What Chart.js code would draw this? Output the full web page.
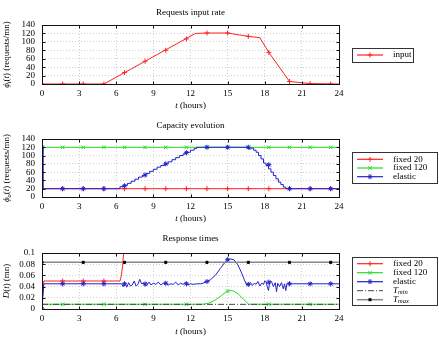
<!DOCTYPE html>
<html><head><meta charset="utf-8">
<script src="https://cdn.jsdelivr.net/npm/chart.js@4.4.0/dist/chart.umd.min.js"></script>
<style>
html,body{margin:0;padding:0;background:#fff;}
.wrap{position:absolute;left:0;width:439px;height:113px;}
</style></head><body>
<div class="wrap" style="top:0"><canvas id="c1"></canvas></div>
<div class="wrap" style="top:113px"><canvas id="c2"></canvas></div>
<div class="wrap" style="top:226px;height:112px"><canvas id="c3"></canvas></div>
<script>
// ---------- data ----------
const hourTicks = [0, 3, 6, 9, 12, 15, 18, 21, 24];
const hourLabels = ['0', '3', '6', '9', '12', '15', '18', '21', '24'];
const rateTicks = [0, 20, 40, 60, 80, 100, 120, 140];
const rateLabels = ['0', '20', '40', '60', '80', '100', '120', '140'];
const delayTicks = [0, 0.02, 0.04, 0.06, 0.08, 0.1];
const delayLabels = ['0', '0.02', '0.04', '0.06', '0.08', '0.1'];

const markT = [0, 1.67, 3.33, 5, 6.67, 8.33, 10, 11.67, 13.33, 15, 16.67, 18.33, 20, 21.67, 23.33];

// Requests input rate
const inputLineT = [0, 5, 12.4, 13.33, 15, 16.67, 17.6, 18.33, 20, 21.67, 24];
const inputLineV = [0, 0, 120, 121, 121, 113, 110, 75, 6, 1, 0];
const inputMarkV = [0, 0, 0, 0, 27, 54, 80, 107, 121, 121, 113, 75, 6, 1, 0];

// Capacity evolution
const capFixed20T = [0, 24];
const capFixed20V = [20, 20];
const capFixed20MarkV = [20, 20, 20, 20, 20, 20, 20, 20, 20, 20, 20, 20, 20, 20, 20];
const capFixed120T = [0, 24];
const capFixed120V = [120, 120];
const capFixed120MarkT = [1.67, 3.33, 5, 6.67, 8.33, 10, 11.67, 13.33, 15, 16.67, 18.33, 20, 21.67, 23.33];
const capFixed120MarkV = [120, 120, 120, 120, 120, 120, 120, 120, 120, 120, 120, 120, 120, 120];
const capElasticT = [0, 0.1, 6.3, 6.6, 6.9, 7.2, 7.5, 7.8, 8.1, 8.4, 8.7, 9.0, 9.3, 9.6, 9.9, 10.2, 10.5, 10.8, 11.1, 11.4, 11.7, 12.0, 12.3, 12.5,
  16.7, 16.9, 17.1, 17.3, 17.5, 17.7, 17.9, 18.1, 18.3, 18.5, 18.7, 18.9, 19.1, 19.3, 19.5, 19.7, 19.9, 24];
const capElasticV = [120, 20, 25, 28, 33, 38, 43, 48, 52, 57, 62, 67, 72, 76, 80, 85, 90, 95, 100, 104, 108, 113, 117, 120,
  116, 118, 113, 108, 100, 92, 82, 76, 68, 60, 52, 44, 36, 30, 24, 20, 20, 20];
const capElasticMarkV = [120, 20, 20, 20, 27, 53, 80, 107, 120, 120, 120, 78, 20, 20, 20];

// Response times
const respFixed20T = [0, 0.15, 6.3, 6.4, 6.5, 6.6, 6.8, 7.0];
const respFixed20V = [0.012, 0.05, 0.05, 0.058, 0.075, 0.1, 0.14, 0.2];
const respFixed20MarkT = [1.67, 3.33, 5];
const respFixed20MarkV = [0.05, 0.05, 0.05];
const respFixed120T = [0, 13.0, 13.5, 14.0, 14.5, 14.9, 15.2, 15.5, 15.9, 16.3, 16.7, 24];
const respFixed120V = [0.0085, 0.0085, 0.0105, 0.016, 0.024, 0.031, 0.033, 0.032, 0.026, 0.017, 0.0085, 0.0085];
const respFixed120MarkT = [1.67, 5, 8.33, 11.67, 15, 18.33, 21.67];
const respFixed120MarkV = [0.0085, 0.0085, 0.0085, 0.0085, 0.032, 0.0085, 0.0085];
const respElasticT = [0, 0.15, 6.3, 6.45, 6.55, 6.7, 6.85, 7.0, 7.15, 7.3, 7.45, 7.6, 7.75, 7.9, 8.05, 8.2, 8.35, 8.5, 8.65, 8.8,
  9.0, 9.2, 9.4, 9.6, 9.8, 10.0, 10.2, 10.4, 10.6, 10.8, 11.0, 11.2, 11.4, 11.6, 11.8, 12.0, 12.2, 12.5, 12.8, 13.0, 13.3,
  13.6, 14.0, 14.4, 14.8, 15.2, 15.5, 15.8, 16.1, 16.35, 16.55, 16.7, 16.85, 17.0, 17.15, 17.3, 17.45, 17.6, 17.75, 17.9,
  18.0, 18.1, 18.2, 18.3, 18.4, 18.55, 18.7, 18.85, 18.95, 19.05, 19.2, 19.35, 19.5, 19.6, 19.7, 19.8, 20.0, 24];
const respElasticV = [0, 0.045, 0.045, 0.045, 0.040, 0.046, 0.039, 0.047, 0.041, 0.043, 0.050, 0.041, 0.044, 0.053, 0.045, 0.046, 0.041, 0.043, 0.048, 0.043,
  0.046, 0.044, 0.048, 0.043, 0.046, 0.046, 0.043, 0.045, 0.044, 0.048, 0.043, 0.046, 0.044, 0.047, 0.043, 0.045, 0.044, 0.045, 0.045, 0.046, 0.049,
  0.052, 0.060, 0.072, 0.084, 0.0895, 0.088, 0.080, 0.066, 0.052, 0.043, 0.045, 0.047, 0.042, 0.046, 0.044, 0.049, 0.041, 0.046, 0.044,
  0.050, 0.049, 0.040, 0.033, 0.048, 0.049, 0.040, 0.047, 0.031, 0.046, 0.040, 0.047, 0.036, 0.045, 0.033, 0.046, 0.045, 0.045];
const respElasticMarkV = [0, 0.045, 0.045, 0.045, 0.045, 0.045, 0.046, 0.045, 0.049, 0.088, 0.044, 0.048, 0.045, 0.045, 0.045];
const tMinT = [0, 24];
const tMinV = [0.00833, 0.00833];
const tMaxT = [0, 24];
const tMaxV = [0.0833, 0.0833];
const tMaxMarkT = [0, 3.33, 6.67, 10, 13.33, 16.67, 20, 23.33];
const tMaxMarkV = [0.0833, 0.0833, 0.0833, 0.0833, 0.0833, 0.0833, 0.0833, 0.0833];

// ---------- styling ----------
const SERIF = '"Liberation Serif", "Times New Roman", serif';
const R = '9px ' + SERIF, I = 'italic 9px ' + SERIF, S = 'italic 6.5px ' + SERIF;
const RED = '#f22', GREEN = '#2d2', BLUE = '#22c', BLACK = '#000', GRAY = '#888', TMIN = '#444';
Chart.defaults.font.family = SERIF;
Chart.defaults.font.size = 9;
Chart.defaults.color = '#000';

function pts(ts, vs) { return ts.map((t, i) => ({ x: t, y: vs[i] })); }
function lineDS(ts, vs, color, order, extra) {
  return Object.assign({ data: pts(ts, vs), borderColor: color, borderWidth: 1, pointRadius: 0, tension: 0, fill: false, order: order }, extra || {});
}
function markDS(ts, vs, color, style, order, r) {
  return { data: pts(ts, vs), showLine: false, pointStyle: style, pointRadius: r || 2.5, borderColor: color,
    backgroundColor: color, pointBorderWidth: 1, order: order };
}

function drawRich(ctx, parts, x, y, align) {
  let w = 0;
  for (const p of parts) { ctx.font = p.f; w += ctx.measureText(p.t).width; }
  let cx = align === 'center' ? x - w / 2 : x;
  ctx.textBaseline = 'middle'; ctx.textAlign = 'left';
  for (const p of parts) { ctx.font = p.f; ctx.fillText(p.t, cx, y + (p.dy || 0)); cx += ctx.measureText(p.t).width; }
}
function drawMarker(ctx, style, x, y, r, color) {
  ctx.save(); ctx.strokeStyle = color; ctx.fillStyle = color; ctx.lineWidth = 1; ctx.setLineDash([]);
  ctx.beginPath();
  if (style === 'cross' || style === 'star') { ctx.moveTo(x - r, y); ctx.lineTo(x + r, y); ctx.moveTo(x, y - r); ctx.lineTo(x, y + r); }
  if (style === 'crossRot' || style === 'star') { const d = r * 0.707; ctx.moveTo(x - d, y - d); ctx.lineTo(x + d, y + d); ctx.moveTo(x - d, y + d); ctx.lineTo(x + d, y - d); }
  ctx.stroke();
  if (style === 'rect') ctx.fillRect(x - 1.5, y - 1.5, 3, 3);
  ctx.restore();
}

function framePlugin(cfg) {
  return {
    id: 'frame_' + cfg.id,
    afterDatasetsDraw(chart) {
      const ctx = chart.ctx, a = chart.chartArea, xs = chart.scales.x, ys = chart.scales.y;
      ctx.save();
      ctx.strokeStyle = '#111'; ctx.lineWidth = 1; ctx.setLineDash([]);
      const L = Math.round(a.left) + 0.5, T = Math.round(a.top) + 0.5, Rr = Math.round(a.right) + 0.5, B = Math.round(a.bottom) + 0.5;
      ctx.strokeRect(L, T, Rr - L, B - T);
      ctx.beginPath();
      for (const v of hourTicks) { const px = Math.round(xs.getPixelForValue(v)) + 0.5; ctx.moveTo(px, B); ctx.lineTo(px, B - 3); ctx.moveTo(px, T); ctx.lineTo(px, T + 3); }
      for (const v of cfg.yTicks) { const py = Math.round(ys.getPixelForValue(v)) + 0.5; ctx.moveTo(L, py); ctx.lineTo(L + 3, py); ctx.moveTo(Rr, py); ctx.lineTo(Rr - 3, py); }
      ctx.stroke();
      ctx.restore();
    },
    afterDraw(chart) {
      const ctx = chart.ctx, a = chart.chartArea;
      ctx.save(); ctx.fillStyle = '#000';
      // title
      drawRich(ctx, [{ t: cfg.title, f: R }], (a.left + a.right) / 2, 13, 'center');
      // x title
      drawRich(ctx, [{ t: 't', f: I }, { t: ' (hours)', f: R }], (a.left + a.right) / 2, 106, 'center');
      // y title rotated
      ctx.save();
      ctx.translate(7, (a.top + a.bottom) / 2);
      ctx.rotate(-Math.PI / 2);
      drawRich(ctx, cfg.yTitle, 0, 0, 'center');
      ctx.restore();
      // legend box
      const b = cfg.legendBox;
      ctx.strokeStyle = '#333'; ctx.lineWidth = 1; ctx.setLineDash([]);
      ctx.strokeRect(b[0] + 0.5, b[1] + 0.5, b[2], b[3]);
      cfg.legend.forEach((e, i) => {
        const y = b[1] + cfg.legendFirst + i * cfg.legendStep;
        ctx.save();
        ctx.strokeStyle = e.color; ctx.lineWidth = e.lw || 1.2; ctx.setLineDash(e.dash || []);
        ctx.beginPath(); ctx.moveTo(357, y); ctx.lineTo(383, y); ctx.stroke();
        ctx.restore();
        if (e.style) drawMarker(ctx, e.style, 370, y, 2.5, e.mcolor || e.color);
        ctx.fillStyle = '#000';
        drawRich(ctx, e.label, 393, y, 'left');
      });
      ctx.restore();
    }
  };
}

function makeChart(id, cfg) {
  cfg.id = id;
  return new Chart(document.getElementById(id), {
    type: 'line',
    data: { datasets: cfg.datasets },
    options: {
      responsive: true, maintainAspectRatio: false, animation: false,
      layout: { padding: { left: 0, right: 100, top: cfg.top, bottom: 0 } },
      plugins: { legend: { display: false }, title: { display: false }, tooltip: { enabled: false } },
      scales: {
        x: {
          type: 'linear', min: 0, max: 24,
          afterBuildTicks: s => { s.ticks = hourTicks.map(v => ({ value: v })); },
          afterFit: s => { s.height = 29; },
          grid: { color: '#c4c4c4', drawTicks: false, lineWidth: 0.8 },
          border: { display: false, dash: [1, 2] },
          ticks: { padding: 4, maxRotation: 0, autoSkip: false, font: { size: 9 }, callback: (v, i) => hourLabels[i] }
        },
        y: {
          type: 'linear', min: cfg.yMin, max: cfg.yMax,
          afterBuildTicks: s => { s.ticks = cfg.yTicks.map(v => ({ value: v })); },
          afterFit: s => { s.width = 42; },
          grid: { color: '#c4c4c4', drawTicks: false, lineWidth: 0.8 },
          border: { display: false, dash: [1, 2] },
          ticks: { padding: 7, autoSkip: false, font: { size: 9 }, callback: (v, i) => cfg.yLabels[i] }
        }
      }
    },
    plugins: [framePlugin(cfg)]
  });
}

makeChart('c1', {
  top: 25, title: 'Requests input rate', yMin: 0, yMax: 140, yTicks: rateTicks, yLabels: rateLabels,
  yTitle: [{ t: 'ϕ', f: I }, { t: 'i', f: S, dy: 2 }, { t: '(', f: R }, { t: 't', f: I }, { t: ') (requests/mn)', f: R }],
  legendBox: [352, 48, 61, 14], legendFirst: 7, legendStep: 9,
  legend: [{ label: [{ t: 'input', f: R }], color: RED, style: 'cross' }],
  datasets: [
    lineDS(inputLineT, inputLineV, RED, 2),
    markDS(markT, inputMarkV, RED, 'cross', 1)
  ]
});

makeChart('c2', {
  top: 26, title: 'Capacity evolution', yMin: 0, yMax: 140, yTicks: rateTicks, yLabels: rateLabels,
  yTitle: [{ t: 'ϕ', f: I }, { t: 'o', f: S, dy: 2 }, { t: '(', f: R }, { t: 't', f: I }, { t: ') (requests/mn)', f: R }],
  legendBox: [352, 39, 85, 31], legendFirst: 7.3, legendStep: 8.7,
  legend: [
    { label: [{ t: 'fixed 20', f: R }], color: RED, style: 'cross' },
    { label: [{ t: 'fixed 120', f: R }], color: GREEN, style: 'crossRot' },
    { label: [{ t: 'elastic', f: R }], color: BLUE, style: 'star' }
  ],
  datasets: [
    lineDS(capFixed20T, capFixed20V, RED, 6),
    markDS(markT, capFixed20MarkV, RED, 'cross', 5),
    lineDS(capFixed120T, capFixed120V, GREEN, 4),
    markDS(capFixed120MarkT, capFixed120MarkV, GREEN, 'crossRot', 3),
    lineDS(capElasticT, capElasticV, BLUE, 2, { stepped: 'before' }),
    markDS(markT, capElasticMarkV, BLUE, 'star', 1)
  ]
});

makeChart('c3', {
  top: 27, title: 'Response times', yMin: 0, yMax: 0.1, yTicks: delayTicks, yLabels: delayLabels,
  yTitle: [{ t: 'D', f: I }, { t: '(', f: R }, { t: 't', f: I }, { t: ') (mn)', f: R }],
  legendBox: [352, 31, 85, 48], legendFirst: 6.7, legendStep: 9,
  legend: [
    { label: [{ t: 'fixed 20', f: R }], color: RED, style: 'cross' },
    { label: [{ t: 'fixed 120', f: R }], color: GREEN, style: 'crossRot' },
    { label: [{ t: 'elastic', f: R }], color: BLUE, style: 'star' },
    { label: [{ t: 'T', f: I }, { t: 'min', f: S, dy: 2 }], color: TMIN, dash: [6, 2, 1, 2], lw: 1 },
    { label: [{ t: 'T', f: I }, { t: 'max', f: S, dy: 2 }], color: GRAY, style: 'rect', mcolor: BLACK, lw: 1.5 }
  ],
  datasets: [
    lineDS(respFixed20T, respFixed20V, RED, 10),
    markDS(respFixed20MarkT, respFixed20MarkV, RED, 'cross', 9),
    lineDS(respFixed120T, respFixed120V, GREEN, 8),
    markDS(respFixed120MarkT, respFixed120MarkV, GREEN, 'crossRot', 7),
    lineDS(respElasticT, respElasticV, BLUE, 6),
    markDS(markT, respElasticMarkV, BLUE, 'star', 5),
    lineDS(tMinT, tMinV, TMIN, 4, { borderDash: [6, 2, 1, 2] }),
    lineDS(tMaxT, tMaxV, GRAY, 3, { borderWidth: 1.5 }),
    markDS(tMaxMarkT, tMaxMarkV, BLACK, 'rect', 2, 1.5)
  ]
});
</script>
</body></html>
